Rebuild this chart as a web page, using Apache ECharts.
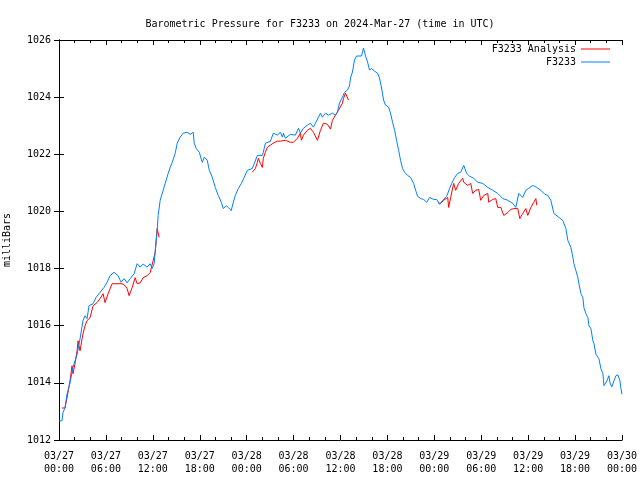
<!DOCTYPE html>
<html>
<head>
<meta charset="utf-8">
<script src="https://cdn.jsdelivr.net/npm/echarts@6/dist/echarts.min.js"></script>
<style>html,body{margin:0;padding:0;background:#fff;}#c{width:640px;height:480px;}</style>
</head>
<body>
<div id="c"></div>
<script>
// Hours since 2024-03-27 00:00 UTC
var stationTimes = [0.00,0.38,0.51,0.77,1.02,1.41,1.79,2.31,2.69,3.07,3.33,3.59,3.84,4.36,4.74,5.25,5.76,6.15,6.53,7.05,7.56,7.94,8.33,8.71,9.10,9.61,9.99,10.38,10.76,11.27,11.66,11.91,12.17,12.30,12.55,12.68,12.94,13.32,13.58,13.96,14.22,14.48,14.86,15.12,15.50,15.89,16.40,16.78,17.17,17.29,17.55,17.94,18.32,18.58,18.96,19.22,19.60,19.98,20.37,20.75,21.01,21.39,21.65,22.03,22.29,22.55,22.93,23.32,23.70,24.08,24.72,25.37,26.01,26.13,26.39,27.03,27.41,27.93,28.31,28.57,28.70,28.95,29.59,30.23,30.62,30.87,31.26,31.77,32.15,32.54,32.80,33.44,33.69,34.08,34.46,34.97,35.36,35.61,35.87,36.25,36.51,36.89,37.15,37.28,37.53,37.79,38.05,38.69,38.94,39.20,39.46,39.71,39.97,40.35,40.74,40.99,41.25,41.51,41.76,42.15,42.40,42.66,42.92,43.17,43.43,43.68,43.94,44.20,44.58,44.97,45.35,45.61,45.86,46.25,46.63,47.02,47.40,47.91,48.30,48.68,49.06,49.58,49.96,50.22,50.60,50.99,51.37,51.76,52.14,52.52,53.04,53.55,54.19,54.83,55.47,56.11,56.75,57.39,58.03,58.42,58.80,59.31,59.70,60.08,60.60,61.11,61.62,62.13,62.52,62.90,63.29,63.93,64.44,64.82,65.08,65.46,65.72,65.85,66.10,66.36,66.49,66.75,67.00,67.13,67.39,67.64,67.77,68.03,68.28,68.41,68.67,68.92,69.05,69.31,69.56,69.69,69.82,70.07,70.33,70.46,70.71,70.97,71.22,71.48,71.74,71.87,72.00];
var stationValues = [1012.67,1012.67,1012.96,1013.13,1013.60,1014.00,1014.54,1015.00,1015.54,1016.18,1016.35,1016.25,1016.70,1016.77,1016.99,1017.17,1017.34,1017.52,1017.75,1017.87,1017.75,1017.52,1017.65,1017.50,1017.65,1017.82,1018.17,1018.05,1018.16,1018.05,1018.17,1018.00,1018.17,1018.60,1019.30,1019.86,1020.39,1020.74,1020.98,1021.33,1021.54,1021.72,1022.03,1022.39,1022.60,1022.74,1022.77,1022.70,1022.77,1022.39,1022.20,1022.07,1021.72,1021.90,1021.79,1021.44,1021.20,1020.84,1020.56,1020.32,1020.10,1020.20,1020.14,1020.03,1020.32,1020.56,1020.80,1020.98,1021.20,1021.44,1021.50,1021.96,1021.96,1022.07,1022.39,1022.45,1022.74,1022.67,1022.77,1022.60,1022.74,1022.56,1022.70,1022.67,1022.91,1022.74,1022.91,1023.02,1023.09,1022.95,1023.09,1023.44,1023.30,1023.44,1023.37,1023.44,1023.37,1023.47,1023.79,1024.00,1024.17,1024.25,1024.39,1024.67,1024.88,1025.30,1025.44,1025.44,1025.72,1025.44,1025.23,1024.95,1025.00,1024.91,1024.84,1024.67,1024.32,1023.90,1023.72,1023.65,1023.44,1023.12,1022.84,1022.49,1022.14,1021.79,1021.50,1021.37,1021.26,1021.19,1020.98,1020.74,1020.53,1020.45,1020.42,1020.32,1020.49,1020.42,1020.42,1020.25,1020.39,1020.53,1020.81,1020.98,1021.19,1021.33,1021.37,1021.61,1021.33,1021.23,1021.16,1021.02,1020.98,1020.84,1020.74,1020.63,1020.45,1020.39,1020.28,1020.14,1020.63,1020.49,1020.74,1020.81,1020.91,1020.84,1020.74,1020.60,1020.56,1020.39,1019.93,1019.79,1019.68,1019.40,1018.98,1018.74,1018.39,1018.17,1017.93,1017.68,1017.47,1017.12,1016.98,1016.63,1016.42,1016.28,1016.00,1015.89,1015.47,1015.37,1015.00,1014.95,1014.84,1014.49,1014.32,1013.90,1013.83,1014.07,1014.25,1014.00,1013.86,1014.07,1014.25,1014.28,1014.07,1013.79,1013.60];

var analysisTimes = [0.38,0.77,1.02,1.41,1.67,1.79,2.05,2.31,2.43,2.69,2.95,3.07,3.33,3.59,3.97,4.36,4.87,5.25,5.64,5.89,6.28,6.79,7.43,8.07,8.46,8.71,8.97,9.35,9.74,9.99,10.38,10.76,11.27,11.66,11.91,12.04,12.30,12.55,12.81,
  18.00,
  24.72,25.11,25.37,25.49,25.75,26.01,26.13,26.39,26.65,27.03,27.41,27.93,28.31,28.95,29.59,29.98,30.49,30.87,31.00,31.26,31.77,32.15,32.54,33.05,33.44,33.82,34.33,34.72,34.97,35.36,35.74,36.25,36.38,36.64,36.89,37.02,
  42.00,
  48.55,48.81,49.19,49.71,49.83,50.09,50.47,50.73,51.11,51.63,51.76,52.27,52.65,52.91,53.29,53.68,53.93,54.32,54.83,54.96,55.47,55.85,56.11,56.50,56.75,56.88,57.39,57.78,58.16,58.67,58.80,58.93,59.31,59.70,59.95,60.34,60.72,60.98,61.11];
var analysisValues = [1013.12,1013.12,1013.47,1014.07,1014.60,1014.32,1014.67,1015.12,1015.47,1015.12,1015.54,1015.72,1016.00,1016.18,1016.28,1016.70,1016.81,1016.95,1017.12,1016.81,1017.12,1017.47,1017.47,1017.47,1017.40,1017.30,1017.05,1017.33,1017.68,1017.47,1017.50,1017.68,1017.75,1017.86,1017.93,1018.28,1018.56,1019.40,1019.09,
  null,
  1021.37,1021.50,1021.72,1021.86,1021.68,1021.54,1021.86,1022.07,1022.25,1022.32,1022.39,1022.46,1022.46,1022.49,1022.42,1022.42,1022.56,1022.74,1022.49,1022.67,1022.84,1022.91,1022.77,1022.49,1022.84,1023.09,1023.05,1022.88,1023.19,1023.37,1023.54,1023.79,1023.95,1024.14,1024.20,1023.90,
  null,
  1020.28,1020.28,1020.39,1020.49,1020.14,1020.49,1020.98,1020.74,1020.98,1021.16,1021.02,1020.91,1020.98,1020.63,1020.74,1020.77,1020.39,1020.56,1020.63,1020.32,1020.42,1020.45,1020.14,1020.14,1020.10,1019.86,1019.96,1020.07,1020.10,1020.10,1020.03,1019.75,1019.93,1020.10,1019.86,1020.14,1020.32,1020.45,1020.21];

var startDay = 27;
var startMonth = '03';

function pairs(ts, vs) {
  var out = [];
  for (var i = 0; i < ts.length; i++) out.push([ts[i], vs[i] === null ? '-' : vs[i]]);
  return out;
}
function pad(n) { return (n < 10 ? '0' : '') + n; }
function timeLabel(v) {
  var d = startDay + Math.floor(v / 24);
  var h = Math.round(v % 24);
  var m = startMonth;
  if (d > 31) { d -= 31; m = '04'; }
  return m + '/' + pad(d) + '\n' + pad(h) + ':00';
}

var FONT = 'DejaVu Sans Mono';
var chart = echarts.init(document.getElementById('c'), null, {renderer: 'canvas'});
var xCommon = {
  type: 'value', min: 0, max: 72, interval: 6,
  axisLine: {show: true, lineStyle: {color: '#000', width: 1}},
  axisTick: {show: true, inside: true, length: 5, lineStyle: {color: '#000'}},
  minorTick: {show: true, splitNumber: 3, length: 3, lineStyle: {color: '#000'}},
  splitLine: {show: false}
};
var yCommon = {
  type: 'value', min: 1012, max: 1026, interval: 2,
  axisLine: {show: true, lineStyle: {color: '#000', width: 1}},
  axisTick: {show: true, inside: true, length: 5, lineStyle: {color: '#000'}},
  splitLine: {show: false}
};
chart.setOption({
  animation: false,
  backgroundColor: '#ffffff',
  textStyle: {fontFamily: FONT},
  title: {
    text: 'Barometric Pressure for F3233 on 2024-Mar-27 (time in UTC)',
    left: 'center', top: 14,
    textStyle: {fontFamily: FONT, fontSize: 10, fontWeight: 'normal', color: '#000'}
  },
  legend: [
    {data: ['F3233 Analysis'], right: 30, top: 44, orient: 'vertical', align: 'right', padding: 0,
     icon: 'rect', itemWidth: 29, itemHeight: 1,
     textStyle: {fontFamily: FONT, fontSize: 10, color: '#000'}},
    {data: ['F3233'], right: 30, top: 57, orient: 'vertical', align: 'right', padding: 0,
     icon: 'rect', itemWidth: 29, itemHeight: 1,
     textStyle: {fontFamily: FONT, fontSize: 10, color: '#000'}}
  ],
  grid: {left: 59, right: 18, top: 40, bottom: 40, containLabel: false, outerBoundsMode: 'none'},
  xAxis: [
    Object.assign({}, xCommon, {position: 'bottom',
      axisLabel: {show: true, formatter: timeLabel, fontFamily: FONT, fontSize: 10, color: '#000', margin: 10, lineHeight: 13}}),
    Object.assign({}, xCommon, {position: 'top', axisLabel: {show: false}})
  ],
  yAxis: [
    Object.assign({}, yCommon, {position: 'left',
      name: 'milliBars', nameLocation: 'middle', nameGap: 47, nameRotate: 90,
      nameTextStyle: {fontFamily: FONT, fontSize: 10, color: '#000'},
      axisLabel: {show: true, formatter: function (v) { return String(v); }, fontFamily: FONT, fontSize: 10, color: '#000', margin: 8}}),
    Object.assign({}, yCommon, {position: 'right', axisLabel: {show: false}})
  ],
  series: [
    {name: 'F3233 Analysis', type: 'line', data: pairs(analysisTimes, analysisValues),
     showSymbol: false, connectNulls: false, color: '#ff0000', lineStyle: {width: 1, color: '#ff0000'}},
    {name: 'F3233', type: 'line', data: pairs(stationTimes, stationValues),
     showSymbol: false, color: '#0080ff', lineStyle: {width: 1, color: '#0080ff'}}
  ]
});
</script>
</body>
</html>
